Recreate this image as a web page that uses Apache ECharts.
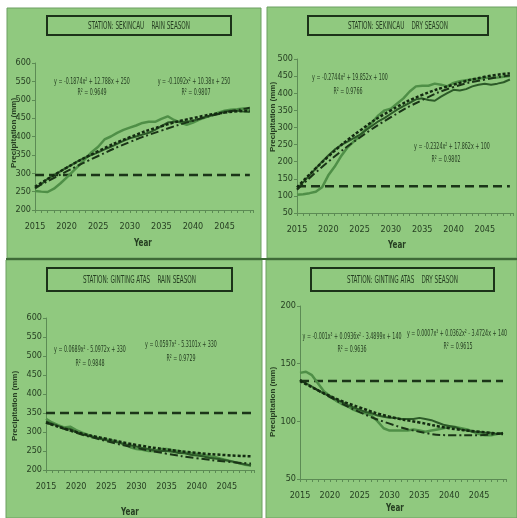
<!DOCTYPE html>
<html>
<head>
<meta charset="utf-8">
<script src="https://cdn.jsdelivr.net/npm/echarts@6/dist/echarts.min.js"></script>
<style>
  html, body { margin: 0; padding: 0; background: #fff; }
  #main { width: 517px; height: 518px; }
</style>
</head>
<body>
<div id="main"></div>
<script>
// years of the projection, one point per year
var years = [2015, 2016, 2017, 2018, 2019, 2020, 2021, 2022, 2023, 2024, 2025, 2026, 2027, 2028, 2029,
  2030, 2031, 2032, 2033, 2034, 2035, 2036, 2037, 2038, 2039, 2040, 2041, 2042, 2043, 2044, 2045,
  2046, 2047, 2048, 2049];
// trend lines read every 5 years
var trendYears = [2015, 2020, 2025, 2030, 2035, 2040, 2045, 2049];

// Sekincau - rain season
var skRainA = [252, 250, 249, 258, 272, 288, 305, 322, 340, 358, 372, 392, 400, 410, 418, 424, 430, 437,
  440, 440, 448, 455, 445, 438, 432, 438, 446, 452, 458, 465, 470, 473, 474, 476, 472];
var skRainB = [258, 270, 285, 295, 305, 315, 325, 335, 343, 350, 357, 365, 372, 380, 388, 395, 400, 405,
  410, 418, 428, 438, 440, 440, 440, 443, 448, 453, 458, 462, 468, 470, 470, 468, 467];
var skRainFit1 = [263, 315, 360, 398, 428, 450, 465, 470];
var skRainFit2 = [260, 305, 347, 385, 416, 443, 465, 478];
var skRainBase = 295;

// Sekincau - dry season
var skDryA = [103, 105, 108, 112, 125, 160, 185, 215, 240, 258, 275, 295, 315, 335, 350, 355, 370, 385,
  405, 420, 422, 422, 428, 425, 420, 430, 435, 438, 440, 442, 445, 445, 446, 448, 450];
var skDryB = [120, 140, 160, 180, 200, 218, 235, 248, 258, 268, 278, 292, 305, 318, 328, 340, 352, 362,
  372, 382, 385, 380, 378, 390, 400, 410, 408, 412, 420, 425, 428, 425, 428, 432, 440];
var skDryFit1 = [125, 215, 290, 350, 395, 425, 448, 458];
var skDryFit2 = [118, 200, 270, 330, 380, 418, 440, 452];
var skDryBase = 128;

// Ginting Atas - rain season
var gaRainA = [335, 325, 318, 312, 314, 305, 298, 292, 287, 283, 280, 278, 274, 268, 260, 255, 253, 250,
  250, 255, 255, 252, 250, 246, 244, 242, 240, 236, 234, 230, 226, 222, 218, 214, 212];
var gaRainB = [328, 322, 316, 310, 308, 300, 294, 290, 286, 282, 278, 275, 272, 268, 265, 262, 258, 255,
  252, 250, 250, 248, 245, 244, 240, 238, 236, 232, 230, 228, 225, 222, 218, 215, 212];
var gaRainFit1 = [325, 300, 282, 266, 254, 245, 239, 236];
var gaRainFit2 = [325, 298, 276, 258, 243, 231, 222, 217];
var gaRainBase = 350;

// Ginting Atas - dry season
var gaDryA = [142, 143, 140, 133, 126, 122, 118, 115, 113, 110, 108, 107, 105, 100, 94, 92, 92, 92,
  92, 93, 92, 91, 92, 93, 94, 95, 95, 94, 93, 91, 89, 88, 88, 89, 90];
var gaDryB = [136, 133, 130, 127, 124, 122, 119, 117, 114, 112, 110, 108, 107, 105, 104, 103, 103, 102,
  102, 102, 103, 102, 101, 99, 97, 96, 95, 93, 92, 91, 91, 90, 90, 89, 89];
var gaDryFit1 = [135, 122, 112, 104, 99, 94, 91, 89];
var gaDryFit2 = [136, 121, 108, 98, 91, 88, 88, 90];
var gaDryBase = 135;

var panels = [
  { title: 'STATION: SEKINCAU    RAIN SEASON', a: skRainA, b: skRainB, f1: skRainFit1, f2: skRainFit2, base: skRainBase,
    yMin: 200, yMax: 600,
    eq: ['y = -0.1874x² + 12.788x + 250', 'R² = 0.9649', 'y = -0.1092x² + 10.38x + 250', 'R² = 0.9807'] },
  { title: 'STATION: SEKINCAU    DRY SEASON', a: skDryA, b: skDryB, f1: skDryFit1, f2: skDryFit2, base: skDryBase,
    yMin: 50, yMax: 500,
    eq: ['y = -0.2744x² + 19.852x + 100', 'R² = 0.9766', 'y = -0.2324x² + 17.862x + 100', 'R² = 0.9802'] },
  { title: 'STATION: GINTING ATAS    RAIN SEASON', a: gaRainA, b: gaRainB, f1: gaRainFit1, f2: gaRainFit2, base: gaRainBase,
    yMin: 200, yMax: 600,
    eq: ['y = 0.0689x² - 5.0972x + 330', 'R² = 0.9848', 'y = 0.0597x² - 5.3101x + 330', 'R² = 0.9729'] },
  { title: 'STATION: GINTING ATAS    DRY SEASON', a: gaDryA, b: gaDryB, f1: gaDryFit1, f2: gaDryFit2, base: gaDryBase,
    yMin: 50, yMax: 200,
    eq: ['y = -0.001x³ + 0.0936x² - 3.4899x + 140', 'R² = 0.9636', 'y = 0.0007x³ + 0.0362x² - 3.4724x + 140', 'R² = 0.9615'] }
];

// layout of each panel (pixels)
var layout = [
  { bg: [7, 8, 254, 250], grid: [35, 63, 218, 147], box: [47, 16, 184, 19],
    eqPos: [[92, 82], [92, 93], [194, 82], [196, 93]], yName: [14, 133], xName: [143, 243] },
  { bg: [267, 7, 250, 251], grid: [297, 59, 216, 154], box: [308, 16, 180, 19],
    eqPos: [[350, 78], [348, 92], [452, 147], [446, 160]], yName: [273, 117], xName: [397, 245] },
  { bg: [6, 260, 256, 258], grid: [46, 318, 208, 152], box: [47, 268, 185, 23],
    eqPos: [[90, 350], [90, 364], [181, 345], [181, 359]], yName: [15, 406], xName: [130, 512] },
  { bg: [266, 260, 251, 258], grid: [300, 306, 206, 173], box: [311, 268, 183, 23],
    eqPos: [[352, 337], [352, 350], [457, 334], [458, 347]], yName: [273, 402], xName: [395, 508] }
];

var narrow = '"Liberation Sans Narrow", "DejaVu Sans Condensed", sans-serif';
var axisColor = '#5c8b54';
var textColor = '#263f22';

function txt(x, y, text, font, sx, rot) {
  return {
    type: 'text', x: x, y: y, z: 20, scaleX: sx || 1, rotation: rot || 0,
    style: { text: text, font: font, fill: textColor, textAlign: 'center', textVerticalAlign: 'middle',
      align: 'center', verticalAlign: 'middle' }
  };
}

var grids = [], xAxes = [], yAxes = [], series = [], graphics = [];

panels.forEach(function (p, i) {
  var L = layout[i];
  graphics.push({ type: 'rect', z: 0, shape: { x: L.bg[0], y: L.bg[1], width: L.bg[2], height: L.bg[3] },
    style: { fill: '#90c97f', stroke: '#6d9f63', lineWidth: 1 } });
  graphics.push({ type: 'rect', z: 5, shape: { x: L.box[0], y: L.box[1], width: L.box[2], height: L.box[3] },
    style: { fill: 'none', stroke: '#1c3219', lineWidth: 2 } });
  graphics.push(txt(L.box[0] + L.box[2] / 2, L.box[1] + L.box[3] / 2 + 1, p.title, '10px ' + narrow, 0.63));
  p.eq.forEach(function (e, k) {
    graphics.push(txt(L.eqPos[k][0], L.eqPos[k][1], e, '9px ' + narrow, 0.59));
  });
  graphics.push(txt(L.yName[0], L.yName[1], 'Precipitation (mm)', 'bold 8px "Liberation Sans", sans-serif', 1, Math.PI / 2));
  graphics.push(txt(L.xName[0], L.xName[1], 'Year', 'bold 10px ' + narrow, 0.8));

  grids.push({ left: L.grid[0], top: L.grid[1], width: L.grid[2], height: L.grid[3] });
  xAxes.push({
    gridIndex: i, type: 'value', min: 2015, max: 2049.5, interval: 5,
    axisLine: { lineStyle: { color: axisColor, width: 1 } },
    axisTick: { length: 3, lineStyle: { color: axisColor } },
    minorTick: { show: true, splitNumber: 5, length: 3, lineStyle: { color: axisColor } },
    splitLine: { show: false },
    axisLabel: { color: textColor, fontSize: 9, fontFamily: narrow, margin: 12,
      formatter: function (v) { return v % 5 === 0 ? String(v) : ''; } }
  });
  yAxes.push({
    gridIndex: i, type: 'value', min: p.yMin, max: p.yMax, interval: 50,
    axisLine: { show: true, lineStyle: { color: axisColor, width: 1 } },
    axisTick: { show: true, length: 3, lineStyle: { color: axisColor } },
    splitLine: { show: false },
    axisLabel: { color: textColor, fontSize: 9, fontFamily: narrow, margin: 4 }
  });

  var pair = function (xs, ys) { return xs.map(function (x, k) { return [x, ys[k]]; }); };
  series.push({ type: 'line', xAxisIndex: i, yAxisIndex: i, data: [[2015, p.base], [2049, p.base]],
    symbol: 'none', silent: true, lineStyle: { color: '#1b3518', width: 2.5, type: [9, 5] } });
  series.push({ type: 'line', xAxisIndex: i, yAxisIndex: i, data: pair(years, p.a), symbol: 'none',
    lineStyle: { color: '#4f8f47', width: 2.5 } });
  series.push({ type: 'line', xAxisIndex: i, yAxisIndex: i, data: pair(years, p.b), symbol: 'none',
    lineStyle: { color: '#2c5a28', width: 2 } });
  series.push({ type: 'line', xAxisIndex: i, yAxisIndex: i, data: pair(trendYears, p.f2), symbol: 'none', smooth: true,
    lineStyle: { color: '#1a3417', width: 2, type: [8, 3, 2, 3] } });
  series.push({ type: 'line', xAxisIndex: i, yAxisIndex: i, data: pair(trendYears, p.f1), symbol: 'none', smooth: true,
    lineStyle: { color: '#132a11', width: 2.5, type: [3, 2] } });
});

// dark divider between the top and bottom panels
graphics.push({ type: 'rect', z: 1, shape: { x: 6, y: 258, width: 511, height: 2 }, style: { fill: '#3e6a37' } });

var option = {
  animation: false,
  backgroundColor: '#ffffff',
  graphic: graphics,
  grid: grids,
  xAxis: xAxes,
  yAxis: yAxes,
  series: series
};

var myChart = echarts.init(document.getElementById('main'));
myChart.setOption(option);
window.addEventListener('resize', function () {
  myChart.resize();
});
</script>
</body>
</html>
